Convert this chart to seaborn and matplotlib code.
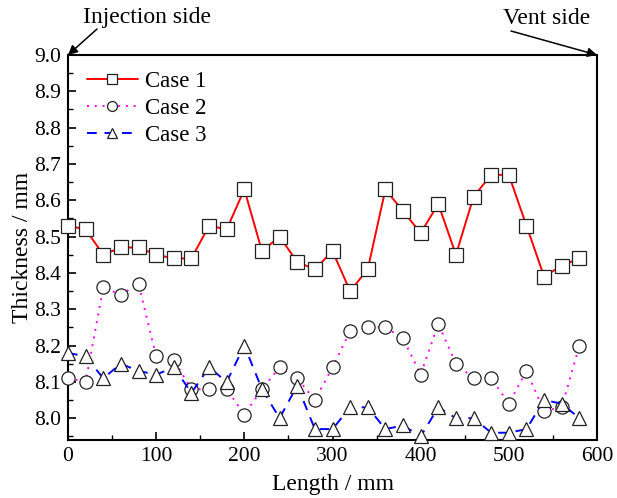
import matplotlib
matplotlib.use("Agg")
import matplotlib.pyplot as plt
import seaborn as sns
import numpy as np
import pandas as pd
from matplotlib.ticker import MultipleLocator

length = [0, 20, 40, 60, 80, 100, 120, 140, 160, 180, 200, 220, 240, 260, 280,
          300, 320, 340, 360, 380, 400, 420, 440, 460, 480, 500, 520, 540, 560, 580]
case1 = [8.53, 8.52, 8.45, 8.47, 8.47, 8.45, 8.44, 8.44, 8.53, 8.52, 8.63, 8.46, 8.50, 8.43, 8.41,
         8.46, 8.35, 8.41, 8.63, 8.57, 8.51, 8.59, 8.45, 8.61, 8.67, 8.67, 8.53, 8.39, 8.42, 8.44]
case2 = [8.11, 8.10, 8.36, 8.34, 8.37, 8.17, 8.16, 8.08, 8.08, 8.08, 8.01, 8.08, 8.14, 8.11, 8.05,
         8.14, 8.24, 8.25, 8.25, 8.22, 8.12, 8.26, 8.15, 8.11, 8.11, 8.04, 8.13, 8.02, 8.03, 8.20]
case3 = [8.18, 8.17, 8.11, 8.15, 8.13, 8.12, 8.14, 8.07, 8.14, 8.10, 8.20, 8.08, 8.00, 8.09, 7.97,
         7.97, 8.03, 8.03, 7.97, 7.98, 7.95, 8.03, 8.00, 8.00, 7.96, 7.96, 7.97, 8.05, 8.04, 8.00]
labels = ["Case 1", "Case 2", "Case 3"]

sns.set_theme(style="white")
plt.rcParams['font.family'] = ['Liberation Serif', 'DejaVu Serif']
plt.rcParams['mathtext.fontset'] = 'stix'

fig = plt.figure(figsize=(6.17, 4.98), dpi=100)
ax = fig.add_axes([68/617, 1-440/498, (597-68)/617, (440-55)/498])

styles = [
    dict(color="#ff0000", linestyle="-", marker="s"),
    dict(color="#ff00ff", linestyle=(0, (1, 3)), marker="o"),
    dict(color="#0000ff", linestyle=(0, (5, 4)), marker="^"),
]
for vals, lab, st in zip([case1, case2, case3], labels, styles):
    df = pd.DataFrame({"x": length, "y": vals})
    sns.lineplot(data=df, x="x", y="y", ax=ax, label=lab, color=st["color"],
                 linestyle=st["linestyle"], marker=st["marker"], markersize=9.5,
                 markerfacecolor="white", markeredgecolor="#222222",
                 markeredgewidth=0.9, linewidth=1.4, clip_on=False, zorder=3)

ax.set_xlim(0, 600)
ax.set_ylim(7.94, 9.0)
ax.xaxis.set_major_locator(MultipleLocator(100))
ax.xaxis.set_minor_locator(MultipleLocator(50))
ax.yaxis.set_minor_locator(MultipleLocator(0.05))
ax.set_yticks(np.arange(8.0, 9.01, 0.1))
ax.yaxis.set_major_formatter(matplotlib.ticker.FormatStrFormatter('%.1f'))
ax.tick_params(axis='both', which='both', direction='in', labelsize=15.5,
               bottom=True, left=True, top=False, right=False, colors='black')
ax.tick_params(which='major', length=6, width=1.2, pad=5)
ax.tick_params(which='minor', length=3.5, width=1.0)
for sp in ax.spines.values():
    sp.set_color('black')
    sp.set_linewidth(1.5)

ax.set_xlabel("Length / mm", fontsize=17, color='black', labelpad=6)
ax.set_ylabel("Thickness / mm", fontsize=17, color='black', labelpad=1)

leg = ax.legend(loc='upper left', frameon=False, fontsize=16.5, handlelength=2.25,
                markerscale=0.75, borderaxespad=0.3, handletextpad=0.3,
                labelspacing=0.25, bbox_to_anchor=(0.005, 1.0))
for t in leg.get_texts():
    t.set_color('black')

ax.text(147/617, 1-18/498, "Injection side", transform=fig.transFigure,
        ha='center', va='center', fontsize=17, color='black')
ax.text(547/617, 1-18/498, "Vent side", transform=fig.transFigure,
        ha='center', va='center', fontsize=17, color='black')
ax.annotate("", xy=(0, 9.0), xycoords='data',
            xytext=(97/617, 1-29/498), textcoords='figure fraction',
            arrowprops=dict(arrowstyle='-|>', color='black', lw=1.1,
                            shrinkA=0, shrinkB=0, mutation_scale=14))
ax.annotate("", xy=(600, 9.0), xycoords='data',
            xytext=(511/617, 1-31/498), textcoords='figure fraction',
            arrowprops=dict(arrowstyle='-|>', color='black', lw=1.1,
                            shrinkA=0, shrinkB=0, mutation_scale=14))

fig.savefig("out.png", dpi=100)
